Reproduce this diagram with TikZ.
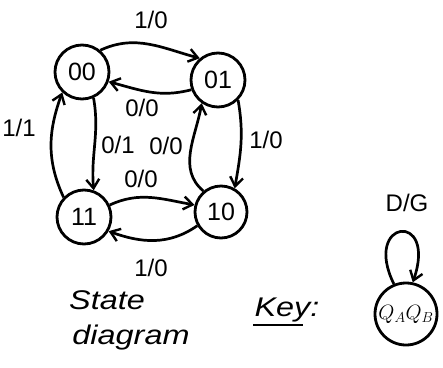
\documentclass[tikz,border=0pt]{standalone}
\usepackage{fontspec}
\setmainfont{Liberation Sans}
\usetikzlibrary{arrows.meta}
\begin{document}
\begin{tikzpicture}[x=1pt,y=-1pt,
  state/.style={circle,draw,line width=2.8pt,minimum size=54pt,inner sep=0pt,font=\fontsize{25}{25}\selectfont},
  trans/.style={line width=2.7pt,-{Straight Barb[length=9pt,width=13pt,line width=2.4pt]}},
  lbl/.style={font=\fontsize{24}{24}\selectfont,inner sep=1pt},
  note/.style={font=\fontsize{27}{27}\selectfont\itshape,inner sep=1pt,xscale=1.2}]
\useasboundingbox (0,0) rectangle (443,367);

% states
\node[state] (s00) at (82,72) {00};
\node[state] (s01) at (218,80) {01};
\node[state] (s11) at (84,217) {11};
\node[state,minimum size=52pt] (s10) at (221,212) {10};

% transitions
\draw[trans] (s00.50) to[out=25,in=165] (s01.130);
\draw[trans] (s01.200) to[out=195,in=-15] (s00.-20);
\draw[trans] (s01.-45) to[out=-80,in=80] (s10.60);
\draw[trans] (s10.130) to[out=140,in=260] (s01.235);
\draw[trans] (s00.-66) to[out=-80,in=95] (s11.70);
\draw[trans] (s11.136) to[out=115,in=250] (s00.226);
\draw[trans] (s11.25) to[out=25,in=170] (s10.165);
\draw[trans] (s10.210) to[out=-145,in=-20] (s11.-30);

% transition labels
\node[lbl] (l1) at (151,20) {1/0};
\node[lbl] (l2) at (142,108) {0/0};
\node[lbl] (l3) at (166,146) {0/0};
\node[lbl] (l4) at (266,140) {1/0};
\node[lbl] (l5) at (118,145) {0/1};
\node[lbl] (l6) at (19,128) {1/1};
\node[lbl] (l7) at (141,179) {0/0};
\node[lbl] (l8) at (151,268) {1/0};

% caption
\node[note] (cap1) at (107,300) {State};
\node[note] (cap2) at (131,338) {diagram};

% key
\node[note] (key) at (287,310) {Key:};
\draw[line width=2.2pt] (key.south west) ++(0,2) -- ++(50,0);
\node[state,minimum size=62pt,font=\fontsize{20}{20}\selectfont] (kq) at (406,314) {$Q_A Q_B$};
\draw[trans] (kq.112) .. controls +(-32,-65) and +(25,-72) .. (kq.78);
\node[lbl] (kl) at (407,203) {D/G};
\end{tikzpicture}
\end{document}
